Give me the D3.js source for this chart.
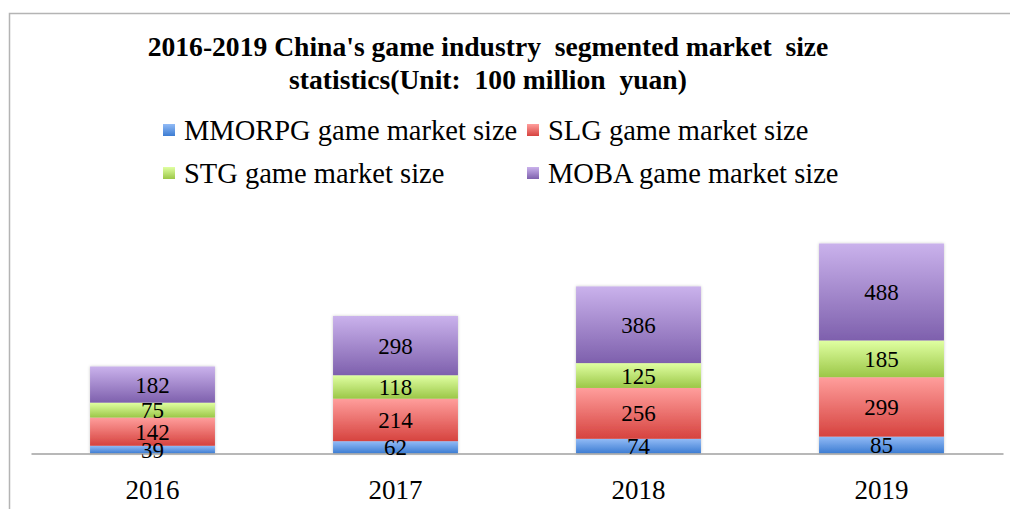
<!DOCTYPE html>
<html>
<head>
<meta charset="utf-8">
<script src="https://cdn.jsdelivr.net/npm/d3@7"></script>
<style>
  body { margin: 0; background: #fff; }
</style>
</head>
<body>
<script>
'use strict';

// chart data
const years = ['2016', '2017', '2018', '2019'];
const seriesNames = ['MMORPG game market size', 'SLG game market size', 'STG game market size', 'MOBA game market size'];
const mmorpg = [39, 62, 74, 85];
const slg = [142, 214, 256, 299];
const stg = [75, 118, 125, 185];
const moba = [182, 298, 386, 488];
const titleLines = ["2016-2019 China's game industry  segmented market  size", "statistics(Unit:  100 million  yuan)"];

// gradient colours per series (top, bottom)
const colors = [
  ['#92bbf6', '#3c7cd2'],
  ['#ff9e9c', '#d6433f'],
  ['#e0ffa2', '#9bc747'],
  ['#cab2ec', '#7e60ad']
];

const serif = '"Liberation Serif", "Times New Roman", serif';

(function() {
  let svgContainer = d3.select('body')
    .append('svg')
    .attr('width', 1010)
    .attr('height', 509)
    .style('display', 'block');

  let defs = svgContainer.append('defs');
  colors.forEach((c, i) => {
    let g = defs.append('linearGradient')
      .attr('id', 'grad' + i)
      .attr('x1', 0).attr('y1', 0).attr('x2', 0).attr('y2', 1);
    g.append('stop').attr('offset', '0%').attr('stop-color', c[0]);
    g.append('stop').attr('offset', '100%').attr('stop-color', c[1]);
  });
  let shadow = defs.append('filter').attr('id', 'shadow')
    .attr('x', '-10%').attr('y', '-10%').attr('width', '120%').attr('height', '120%');
  shadow.append('feDropShadow')
    .attr('dx', 0).attr('dy', 0).attr('stdDeviation', 1.5)
    .attr('flood-color', '#000').attr('flood-opacity', 0.22);

  // outer frame (only left and top edges are visible)
  svgContainer.append('path')
    .attr('d', 'M9.5,509 L9.5,13.5 L1010,13.5')
    .attr('fill', 'none')
    .attr('stroke', '#b4b4b4')
    .attr('stroke-width', 1.5);

  // table for stacking
  let table = years.map((y, i) => ({
    year: y, s0: mmorpg[i], s1: slg[i], s2: stg[i], s3: moba[i]
  }));
  let stack = d3.stack().keys(['s0', 's1', 's2', 's3'])(table);

  let xScale = d3.scaleBand()
    .domain(years)
    .range([31, 1003])
    .paddingInner(0.486)
    .paddingOuter(0.243);

  let yScale = d3.scaleLinear()
    .domain([0, 1200])
    .range([453.5, 215.1]);

  // bars
  let barGroups = svgContainer.selectAll('.bar')
    .data(years)
    .enter()
    .append('g')
    .attr('class', 'bar')
    .attr('filter', 'url(#shadow)');

  barGroups.each(function(year, yi) {
    let g = d3.select(this);
    stack.forEach((layer, si) => {
      let d = layer[yi];
      g.append('rect')
        .attr('x', xScale(year))
        .attr('y', yScale(d[1]))
        .attr('width', xScale.bandwidth())
        .attr('height', yScale(d[0]) - yScale(d[1]))
        .attr('fill', 'url(#grad' + si + ')');
    });
  });

  // x axis
  let xAxis = d3.axisBottom(xScale).tickSize(0).tickPadding(26);
  let axisG = svgContainer.append('g')
    .attr('transform', 'translate(0,' + yScale(0) + ')')
    .call(xAxis);
  axisG.select('.domain').attr('stroke', '#a0a0a0').attr('stroke-width', 1.5);
  axisG.selectAll('text')
    .attr('font-family', serif)
    .attr('font-size', '27px')
    .attr('fill', '#000');

  // data labels
  stack.forEach((layer, si) => {
    svgContainer.selectAll('.lbl' + si)
      .data(layer)
      .enter()
      .append('text')
      .attr('x', (d, i) => xScale(years[i]) + xScale.bandwidth() / 2)
      .attr('y', d => (yScale(d[0]) + yScale(d[1])) / 2)
      .attr('dy', '0.35em')
      .attr('text-anchor', 'middle')
      .attr('font-family', serif)
      .attr('font-size', '23px')
      .text(d => d[1] - d[0]);
  });

  // title
  svgContainer.append('text')
    .attr('x', 488)
    .attr('y', 56)
    .attr('text-anchor', 'middle')
    .attr('font-family', serif)
    .attr('font-size', '27.6px')
    .attr('font-weight', 'bold')
    .style('white-space', 'pre')
    .text(titleLines[0]);
  svgContainer.append('text')
    .attr('x', 488)
    .attr('y', 89)
    .attr('text-anchor', 'middle')
    .attr('font-family', serif)
    .attr('font-size', '27.6px')
    .attr('font-weight', 'bold')
    .style('white-space', 'pre')
    .text(titleLines[1]);

  // legend
  let legendPos = [[163, 140], [527, 140], [163, 183], [527, 183]];
  seriesNames.forEach((name, i) => {
    let p = legendPos[i];
    svgContainer.append('rect')
      .attr('x', p[0])
      .attr('y', p[1] - 16)
      .attr('width', 12)
      .attr('height', 12)
      .attr('fill', 'url(#grad' + i + ')');
    svgContainer.append('text')
      .attr('x', p[0] + 21)
      .attr('y', p[1])
      .attr('font-family', serif)
      .attr('font-size', '28.5px')
      .text(name);
  });
})();
</script>
</body>
</html>
